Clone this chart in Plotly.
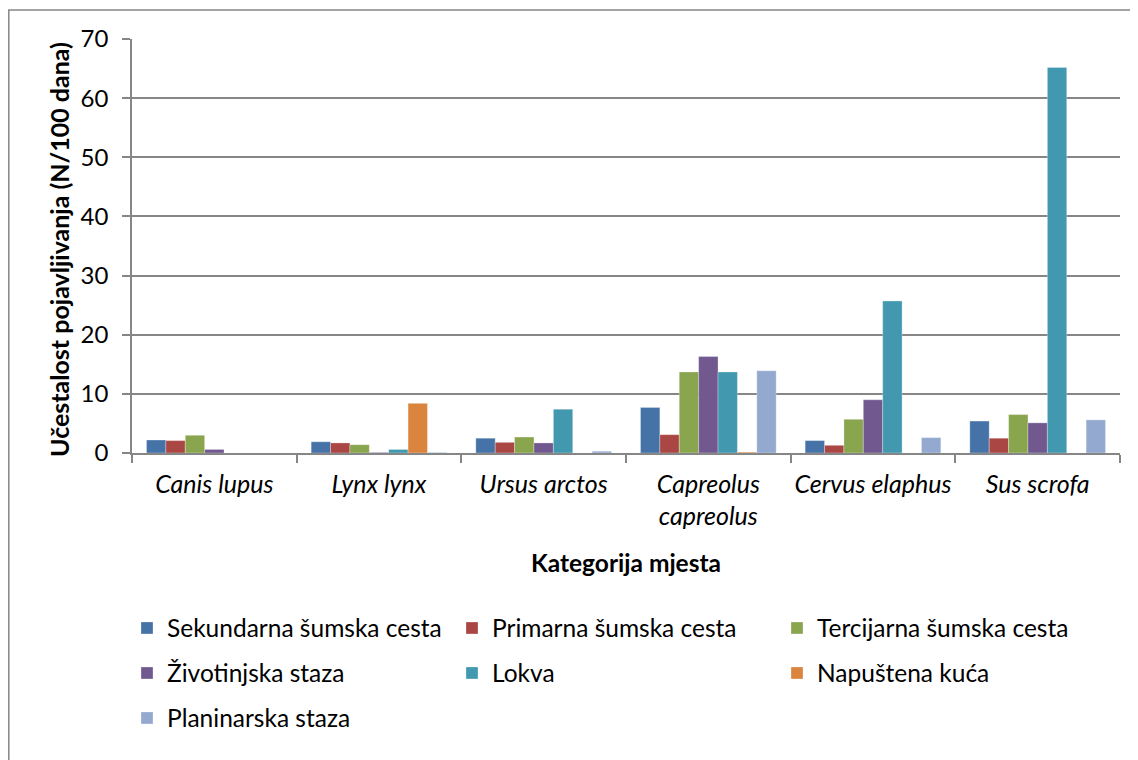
import plotly.graph_objects as go

categories = ["Canis lupus", "Lynx lynx", "Ursus arctos", "Capreolus capreolus", "Cervus elaphus", "Sus scrofa"]
tick_labels = ["<i>Canis lupus</i>", "<i>Lynx lynx</i>", "<i>Ursus arctos</i>",
               "<i>Capreolus</i><br><i>capreolus</i>", "<i>Cervus elaphus</i>", "<i>Sus scrofa</i>"]

series_names = ["Sekundarna šumska cesta", "Primarna šumska cesta", "Tercijarna šumska cesta",
                "Životinjska staza", "Lokva", "Napuštena kuća", "Planinarska staza"]

sekundarna = [2.2, 1.9, 2.5, 7.7, 2.1, 5.4]
primarna = [2.1, 1.7, 1.8, 3.1, 1.3, 2.5]
tercijarna = [3.0, 1.4, 2.7, 13.7, 5.7, 6.5]
zivotinjska = [0.6, 0.1, 1.7, 16.3, 9.0, 5.1]
lokva = [0.0, 0.6, 7.4, 13.7, 25.7, 65.2]
napustena = [0.0, 8.4, 0.0, 0.15, 0.0, 0.0]
planinarska = [0.0, 0.1, 0.3, 13.9, 2.6, 5.6]

series_values = [sekundarna, primarna, tercijarna, zivotinjska, lokva, napustena, planinarska]
colors = ["#4572A7", "#AA4643", "#89A54E", "#71588F", "#4198AF", "#DB843D", "#93A9CF"]
legend_ids = ["legend", "legend", "legend", "legend2", "legend2", "legend2", "legend3"]

FONT = "Lato"
GRID = "#868686"

fig = go.Figure()
for name, vals, col, lg in zip(series_names, series_values, colors, legend_ids):
    fig.add_trace(go.Bar(
        x=categories, y=vals, name=name, legend=lg,
        marker=dict(color=col, line=dict(color="rgba(255,255,255,0.5)", width=0.6)),
    ))

# page body has an 8px margin, so figure pixel = screen pixel - 8
OFF = 8
W, H = 1138, 760
L, R, T, B = 124, 26, 31, 315
pw = W - L - R
ph = H - T - B

def px_to_paper_x(sx):
    return (sx - OFF - L) / pw

def px_to_paper_y(sy):
    return (H - B - (sy - OFF)) / ph

leg_common = dict(orientation="h", xanchor="left", yanchor="middle",
                  entrywidth=280, entrywidthmode="pixels",
                  font=dict(family=FONT, size=24.5, color="#000000"),
                  bgcolor="rgba(0,0,0,0)", borderwidth=0, itemclick=False)

fig.update_layout(
    width=W, height=H,
    margin=dict(l=L, r=R, t=T, b=B, autoexpand=False),
    paper_bgcolor="white", plot_bgcolor="white",
    font=dict(family=FONT, size=24, color="#000000"),
    barmode="group", bargap=0.176, bargroupgap=0,
    legend=dict(x=px_to_paper_x(127), y=px_to_paper_y(628), **leg_common),
    legend2=dict(x=px_to_paper_x(127), y=px_to_paper_y(673), **leg_common),
    legend3=dict(x=px_to_paper_x(127), y=px_to_paper_y(718), **leg_common),
    xaxis=dict(
        tickmode="array", tickvals=categories, ticktext=tick_labels, tickangle=0,
        tickson="boundaries", ticks="outside", ticklen=8, tickcolor=GRID, tickwidth=1.5,
        showline=True, linecolor=GRID, linewidth=1.5, showgrid=False,
        tickfont=dict(family=FONT, size=25), ticklabelstandoff=8,
        automargin=False,
    ),
    yaxis=dict(
        range=[0, 70], dtick=10, tick0=0,
        ticks="outside", ticklen=8, tickcolor=GRID, tickwidth=1.5,
        showline=True, linecolor=GRID, linewidth=1.5,
        showgrid=True, gridcolor=GRID, gridwidth=1.5, zeroline=False,
        tickfont=dict(family=FONT, size=24), ticklabelstandoff=9,
        automargin=False,
    ),
    annotations=[
        dict(text="<b>Kategorija mjesta</b>", xref="paper", yref="paper",
             x=0.5, y=px_to_paper_y(562), xanchor="center", yanchor="middle",
             showarrow=False, font=dict(family=FONT, size=24.5)),
        dict(text="<b>Učestalost pojavljivanja (N/100 dana)</b>", xref="paper", yref="paper",
             x=px_to_paper_x(59), y=px_to_paper_y(250), xanchor="center", yanchor="middle",
             textangle=-90, showarrow=False, font=dict(family=FONT, size=25)),
    ],
    shapes=[
        dict(type="rect", xref="paper", yref="paper",
             x0=px_to_paper_x(OFF + 0.8), x1=px_to_paper_x(1160),
             y0=px_to_paper_y(790), y1=px_to_paper_y(10),
             line=dict(color=GRID, width=1.5), fillcolor="rgba(0,0,0,0)", layer="below"),
    ],
)

fig.write_html("out.html")
